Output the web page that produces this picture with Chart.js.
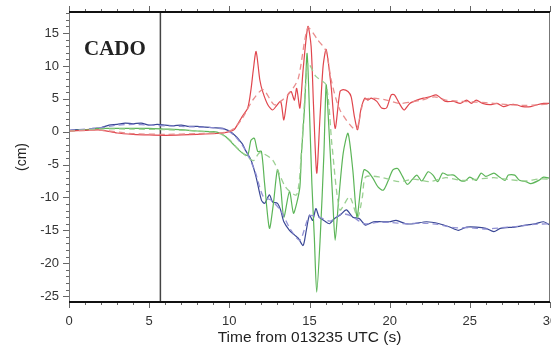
<!DOCTYPE html>
<html>
<head>
<meta charset="utf-8">
<script src="https://cdn.jsdelivr.net/npm/chart.js@4"></script>
<style>
  body { margin: 0; background: #fff; }
  #wrap { width: 551px; height: 347px; }
</style>
</head>
<body>
<div id="wrap"><canvas id="gpsChart" width="551" height="347"></canvas></div>
<script>
// Displacement records at CADO (cm), solid = observed, dashed = model
const xTicks = [0, 5, 10, 15, 20, 25, 30];
const yTicks = [-25, -20, -15, -10, -5, 0, 5, 10, 15];
const stationName = "CADO";
const markerTime = 5.7;

const redT = [0, 1, 2, 3, 4, 5, 6, 7, 8, 9, 9.6, 10, 10.3, 10.8, 11.15, 11.35, 11.5, 11.67, 11.9, 12.08, 12.4, 12.7, 12.9, 13.2, 13.4, 13.65, 13.85, 14.06, 14.2, 14.4, 14.6, 14.9, 15.1, 15.25, 15.45, 15.65, 15.85, 16.04, 16.35, 16.6, 16.9, 17.1, 17.4, 17.6, 17.8, 18.0, 18.2, 18.45, 18.65, 18.85, 19.2, 19.5, 19.8, 20.1, 20.3, 20.6, 20.9, 21.25, 21.7, 22.1, 22.5, 22.9, 23.2, 23.5, 24.0, 24.4, 24.8, 25.1, 25.4, 25.8, 26.25, 26.7, 27.1, 27.5, 27.9, 28.3, 28.8, 29.2, 29.6, 30];
const redV = [0.1, 0.2, 0.25, -0.2, -0.4, -0.5, -0.55, -0.5, -0.4, -0.3, -0.2, 0, 0.3, 2.3, 3.6, 6.4, 9.5, 12.2, 7.9, 6.1, 4.1, 3.3, 3.8, 4.6, 1.8, 5.6, 6.1, 4.8, 6.6, 3.6, 9.4, 16.0, 13, 4, -6.3, 2, 10, 12.5, 6.9, 0.5, 6.1, 6.4, 6.1, 5.3, 2.3, 0.3, 3.3, 5.1, 4.8, 5.1, 4.6, 3.6, 3.6, 5.6, 5.6, 4.3, 3.3, 4.3, 4.8, 5.1, 5.3, 5.6, 5.1, 4.6, 4.6, 4.3, 4.8, 4.3, 4.8, 4.3, 4.1, 4.3, 3.8, 4.1, 4.1, 3.8, 3.8, 4.1, 4.3, 4.3];
const redModelT = [0, 2, 4, 6, 8, 9.8, 10.3, 10.8, 11.46, 12.1, 12.8, 13.3, 13.8, 14.3, 14.9, 15.5, 16.04, 16.35, 16.9, 17.9, 18.4, 19, 19.8, 20.6, 21.3, 22, 22.8, 23.5, 24.5, 25.5, 26.5, 27.5, 28.5, 29.3, 30];
const redModelV = [0.1, 0.2, -0.3, -0.4, -0.3, -0.1, 0.5, 2, 4.8, 6.4, 4.1, 4.8, 6, 8.1, 15.8, 14, 12.2, 7.9, 3.3, 0.3, 4.8, 5.1, 4.8, 4.3, 4.5, 4.8, 5.3, 4.8, 4.6, 4.5, 4.3, 4.1, 4.0, 4.1, 4.2];

const greenT = [0, 1, 2, 3, 4, 5, 6, 7, 8, 9, 9.4, 9.8, 10.2, 10.6, 10.9, 11.15, 11.35, 11.56, 11.77, 12.0, 12.2, 12.5, 12.75, 13.0, 13.2, 13.4, 13.75, 14.0, 14.2, 14.4, 14.5, 14.7, 14.85, 15.0, 15.15, 15.3, 15.45, 15.67, 15.9, 16.04, 16.2, 16.46, 16.6, 16.8, 17.1, 17.4, 17.7, 17.96, 18.2, 18.4, 18.65, 18.96, 19.27, 19.6, 19.9, 20.2, 20.5, 20.8, 21.1, 21.4, 21.7, 22.0, 22.4, 22.7, 23.0, 23.3, 23.6, 24.0, 24.4, 24.7, 25.0, 25.4, 25.7, 26.0, 26.5, 26.8, 27.2, 27.4, 27.8, 28.1, 28.5, 28.8, 29.3, 29.6, 30];
const greenV = [0.1, 0.3, 0.5, 0.5, 0.5, 0.5, 0.4, 0.3, 0.1, 0, -0.2, -0.8, -1.8, -2.8, -3.4, -3.6, -1.3, -1.0, -3.0, -3.0, -7.9, -14.7, -10.9, -5.8, -8.4, -13, -9.1, -12.4, -10.9, -8.4, -3.3, 4, 11.9, 3, -8, -16, -24.4, -16, -3.3, 7.1, 1, -10.9, -16.5, -10.9, -3.3, -0.25, -5.8, -13, -8.4, -5.8, -6.1, -7.1, -8.4, -8.9, -7.5, -5.8, -5.6, -6.8, -8.0, -7.3, -6.6, -7.5, -6.1, -6.6, -7.6, -6.3, -6.6, -6.6, -7.4, -7.5, -6.9, -7.4, -6.3, -6.8, -6.3, -6.8, -7.4, -6.6, -6.6, -7.4, -7.6, -7.9, -7.4, -6.9, -7.1];
const greenModelT = [0, 2, 4, 6, 8, 9.4, 10, 10.5, 11, 11.5, 11.9, 12.7, 13.5, 14.2, 14.5, 14.9, 15.4, 16.04, 16.4, 16.9, 17.5, 18, 18.3, 18.5, 19.4, 20.6, 21.5, 22.5, 23.5, 24.5, 25.5, 26.5, 27.5, 28.5, 29.3, 30];
const greenModelV = [0.1, 0.4, 0.4, 0.3, 0.1, -0.3, -1.2, -2.5, -3.6, -4.4, -3.2, -4.3, -8.4, -9.6, -3, 10.4, 8.4, 7.1, -2, -11.9, -9.9, -13, -9.9, -6.9, -6.9, -7.6, -7.2, -7.6, -7.0, -7.4, -7.2, -7.0, -7.3, -7.5, -7.2, -7.2];

const blueT = [0, 0.5, 1, 1.5, 2, 2.5, 3, 3.5, 4, 4.5, 5, 5.5, 6, 6.5, 7, 7.5, 8, 8.5, 9, 9.6, 10.2, 10.8, 11.0, 11.35, 11.67, 12.0, 12.2, 12.5, 12.7, 13.0, 13.2, 13.4, 13.75, 14.06, 14.3, 14.6, 14.8, 15.0, 15.2, 15.4, 15.6, 15.9, 16.25, 16.56, 16.9, 17.3, 17.7, 18.1, 18.5, 19, 19.5, 20, 20.4, 21, 21.5, 22.3, 23.1, 23.75, 24.3, 24.8, 25.4, 26, 26.5, 26.9, 27.8, 28.5, 29.1, 29.6, 30];
const blueV = [0.2, 0.3, 0.2, 0.5, 0.6, 1.0, 1.1, 1.3, 1.2, 1.3, 1.0, 1.1, 1.0, 0.9, 1.0, 0.8, 0.8, 0.7, 0.6, 0.5, -0.25, -1.8, -2.8, -4.3, -6.9, -10.4, -10.9, -9.6, -10.7, -10.9, -11.9, -13.7, -15, -15.7, -16.2, -17.3, -15, -12.7, -13.5, -11.7, -13, -13.5, -14, -13.2, -12.7, -11.9, -13, -13.2, -14.2, -13.7, -13.7, -13.7, -13.5, -14, -14, -13.7, -14, -14.5, -15, -14.5, -14.5, -14.7, -15.2, -14.7, -14.5, -14.2, -14, -13.7, -14.2];
const blueModelT = [0, 2, 3, 4, 5, 6, 7, 8, 9, 9.8, 10.4, 11, 11.6, 12.1, 12.6, 13.2, 13.8, 14.4, 15, 15.6, 16.3, 17, 17.6, 18.4, 19.2, 20, 21, 22, 23, 24, 25, 26, 27, 28, 29, 30];
const blueModelV = [0.2, 0.6, 1.0, 1.1, 1.0, 0.9, 0.8, 0.7, 0.6, 0.3, -0.8, -2.8, -6, -9.8, -10.4, -12, -14.8, -16.5, -12.8, -13, -13.6, -12.5, -12.8, -14, -13.8, -13.8, -14, -13.9, -14.1, -14.6, -14.6, -14.8, -14.6, -14.4, -14.1, -14.0];

function pts(ts, vs) {
    return ts.map((t, i) => ({ x: t, y: vs[i] }));
}

function line(label, ts, vs, color, dashed) {
    return {
        label: label,
        data: pts(ts, vs),
        borderColor: color,
        borderWidth: dashed ? 1.3 : 1.2,
        borderDash: dashed ? [6, 4] : [],
        pointRadius: 0,
        tension: 0.25,
        fill: false
    };
}

const yMin = -25.9, yMax = 18.2;

function noPad(s) {
    s.paddingLeft = 0; s.paddingRight = 0; s.paddingTop = 0; s.paddingBottom = 0;
}

// frame and outside tick marks (major every 5, minor every 1)
const framePlugin = {
    id: 'frame',
    afterDraw(chart) {
        const ctx = chart.ctx, a = chart.chartArea;
        const xs = chart.scales.x, ys = chart.scales.y;
        ctx.save();
        ctx.strokeStyle = '#666';
        ctx.lineWidth = 1;
        for (let t = 0; t <= 30; t++) {
            const px = Math.round(xs.getPixelForValue(t)) + 0.5;
            const len = t % 5 === 0 ? 6 : 3;
            ctx.beginPath();
            ctx.moveTo(px, a.bottom); ctx.lineTo(px, a.bottom + len);
            ctx.moveTo(px, a.top); ctx.lineTo(px, a.top - len);
            ctx.stroke();
        }
        for (let v = -25; v <= 18; v++) {
            const py = Math.round(ys.getPixelForValue(v)) + 0.5;
            const len = v % 5 === 0 ? 6 : 3;
            ctx.beginPath();
            ctx.moveTo(a.left, py); ctx.lineTo(a.left - len, py);
            ctx.stroke();
        }
        ctx.strokeStyle = '#777';
        ctx.beginPath();
        ctx.moveTo(a.left + 0.5, a.top); ctx.lineTo(a.left + 0.5, a.bottom);
        ctx.moveTo(a.right - 0.5, a.top); ctx.lineTo(a.right - 0.5, a.bottom);
        ctx.stroke();
        ctx.strokeStyle = '#111';
        ctx.lineWidth = 2;
        ctx.beginPath();
        ctx.moveTo(a.left, a.top); ctx.lineTo(a.right, a.top);
        ctx.moveTo(a.left, a.bottom); ctx.lineTo(a.right, a.bottom);
        ctx.stroke();
        ctx.fillStyle = '#222';
        ctx.font = 'bold 21px "Liberation Serif", "Times New Roman", serif';
        ctx.textBaseline = 'alphabetic';
        ctx.fillText(stationName, a.left + 15, a.top + 43);
        ctx.restore();
    }
};

new Chart(document.getElementById('gpsChart'), {
    type: 'line',
    data: {
        datasets: [
            line('red model', redModelT, redModelV, 'rgba(232,135,135,0.95)', true),
            line('green model', greenModelT, greenModelV, 'rgba(150,205,140,0.95)', true),
            line('blue model', blueModelT, blueModelV, 'rgba(140,140,210,0.95)', true),
            line('red', redT, redV, '#e0464d', false),
            line('green', greenT, greenV, '#5cb558', false),
            line('blue', blueT, blueV, '#3a4795', false),
            {
                label: 'marker',
                data: [{ x: markerTime, y: yMin }, { x: markerTime, y: yMax }],
                borderColor: '#444',
                borderWidth: 1.5,
                pointRadius: 0
            }
        ]
    },
    options: {
        responsive: false,
        animation: false,
        layout: { padding: { top: 12, right: 1, left: 0, bottom: 0 }, autoPadding: false },
        plugins: { legend: { display: false }, tooltip: { enabled: false } },
        scales: {
            x: {
                type: 'linear',
                min: 0, max: 30,
                grid: { display: false, drawTicks: false },
                border: { display: false },
                afterBuildTicks: s => { s.ticks = xTicks.map(v => ({ value: v })); },
                afterFit: s => { s.height = 45; noPad(s); },
                ticks: { padding: 12, color: '#333', font: { family: 'Liberation Sans, Arial, sans-serif', size: 13 }, maxRotation: 0 },
                title: { display: true, text: 'Time from 013235 UTC (s)', color: '#222', font: { family: 'Liberation Sans, Arial, sans-serif', size: 15.5 }, padding: { top: 0, bottom: 0 } }
            },
            y: {
                type: 'linear',
                min: yMin, max: yMax,
                grid: { display: false, drawTicks: false },
                border: { display: false },
                afterBuildTicks: s => { s.ticks = yTicks.map(v => ({ value: v })); },
                afterFit: s => { s.width = 69; noPad(s); },
                ticks: { padding: 10, color: '#333', font: { family: 'Liberation Sans, Arial, sans-serif', size: 13 } },
                title: { display: true, text: '(cm)', color: '#222', font: { family: 'Liberation Sans, Arial, sans-serif', size: 14 }, padding: { top: 14, bottom: 0 } }
            }
        }
    },
    plugins: [framePlugin]
});
</script>
</body>
</html>
